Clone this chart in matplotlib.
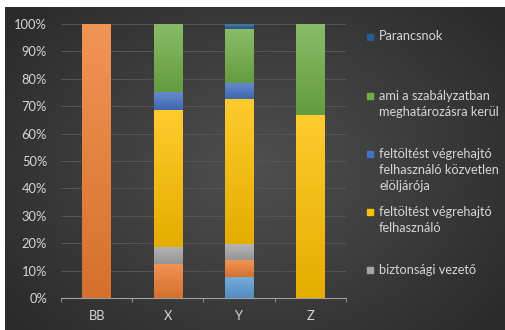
import numpy as np
import matplotlib
matplotlib.use("Agg")
import matplotlib.pyplot as plt
from matplotlib.colors import to_rgb

plt.rcParams['font.family'] = ['Lato', 'DejaVu Sans']

# --- adatok (százalék), alulról felfelé halmozva ---
categories = ['BB', 'X', 'Y', 'Z']
vilagoskek = [0, 0, 7.8, 0]
narancs = [100, 12.5, 6.1, 0]
biztonsagi_vezeto = [0, 6.25, 5.7, 0]
felhasznalo = [0, 50.0, 53.0, 66.7]
eloljaro = [0, 6.25, 6.0, 0]
szabalyzat = [0, 25.0, 19.7, 33.3]
parancsnok = [0, 0, 1.7, 0]

series = [
    (vilagoskek, '#5B9BD5', None),
    (narancs, '#ED7D31', None),
    (biztonsagi_vezeto, '#A5A5A5', 'biztonsági vezető'),
    (felhasznalo, '#FFC000', 'feltöltést végrehajtó\nfelhasználó'),
    (eloljaro, '#4472C4', 'feltöltést végrehajtó\nfelhasználó közvetlen\nelöljárója'),
    (szabalyzat, '#70AD47', 'ami a szabályzatban\nmeghatározásra kerül'),
    (parancsnok, '#255E91', 'Parancsnok'),
]

W, H = 505, 330
fig = plt.figure(figsize=(W / 100, H / 100), dpi=100)
fig.patch.set_facecolor('white')

# sötét, középen világosabb háttér
bg = fig.add_axes([5 / W, 0, 1 - 5 / W, 1 - 7 / H])
yy, xx = np.mgrid[0:1:200j, 0:1:300j]
r = np.sqrt(((xx - 0.5) / 0.75) ** 2 + ((yy - 0.5) / 0.9) ** 2)
shade = np.clip(0.31 - 0.17 * r, 0.17, 0.31)
bg.imshow(np.dstack([shade] * 3), aspect='auto', extent=(0, 1, 0, 1))
bg.set_axis_off()

ax = fig.add_axes([61 / W, (H - 298) / H, 285 / W, 274 / H])
ax.set_facecolor('none')

x = np.arange(len(categories))
bottom = np.zeros(len(categories))
for values, color, _ in series:
    bars = ax.bar(x, values, 0.4, bottom=bottom, color=color, zorder=2)
    c = np.array(to_rgb(color))
    top_c = c + (1 - c) * 0.18
    bot_c = c * 0.9
    grad = np.linspace(0, 1, 64)[:, None, None]
    img = top_c * (1 - grad) + bot_c * grad
    for b in bars:
        if b.get_height() <= 0:
            continue
        bx, by = b.get_x(), b.get_y()
        im = ax.imshow(img, aspect='auto', zorder=3,
                       extent=(bx, bx + b.get_width(), by, by + b.get_height()))
        im.set_clip_path(b)
    bottom += np.array(values)

txt = '#d6d6d6'
ax.set_xlim(-0.5, len(categories) - 0.5)
ax.set_ylim(0, 100)
ax.set_yticks(np.arange(0, 101, 10))
ax.set_yticklabels([f'{v}%' for v in range(0, 101, 10)])
ax.yaxis.grid(True, color='#555555', linewidth=0.7, zorder=0)
ax.set_axisbelow(True)

ax.set_xticks(x)
ax.set_xticklabels(categories)
ax.set_xticks(np.arange(-0.5, len(categories)), minor=True)
ax.tick_params(axis='x', which='major', length=0, pad=9, labelsize=9.3, colors=txt)
ax.tick_params(axis='x', which='minor', length=3, color='#a0a0a0', direction='out')
ax.tick_params(axis='y', length=0, pad=10, labelsize=9.3, colors=txt)

for s in ['top', 'right', 'left']:
    ax.spines[s].set_visible(False)
ax.spines['bottom'].set_color('#a0a0a0')
ax.spines['bottom'].set_linewidth(0.8)

# jelmagyarázat kézzel elhelyezve
legend_y = {'Parancsnok': 37, 'ami a szabályzatban\nmeghatározásra kerül': 96,
            'feltöltést végrehajtó\nfelhasználó közvetlen\nelöljárója': 154,
            'feltöltést végrehajtó\nfelhasználó': 212, 'biztonsági vezető': 270}
for _, color, label in series:
    if label is None:
        continue
    ty = legend_y[label]
    fig.patches.append(plt.Rectangle((367 / W, 1 - (ty + 3) / H), 6 / W, 6 / H,
                                     transform=fig.transFigure, color=color))
    fig.text(379 / W, 1 - (ty - 6.5) / H, label, color=txt, fontsize=9.2,
             va='top', ha='left', linespacing=1.42)

fig.savefig('out.png', dpi=100, facecolor=fig.get_facecolor())
